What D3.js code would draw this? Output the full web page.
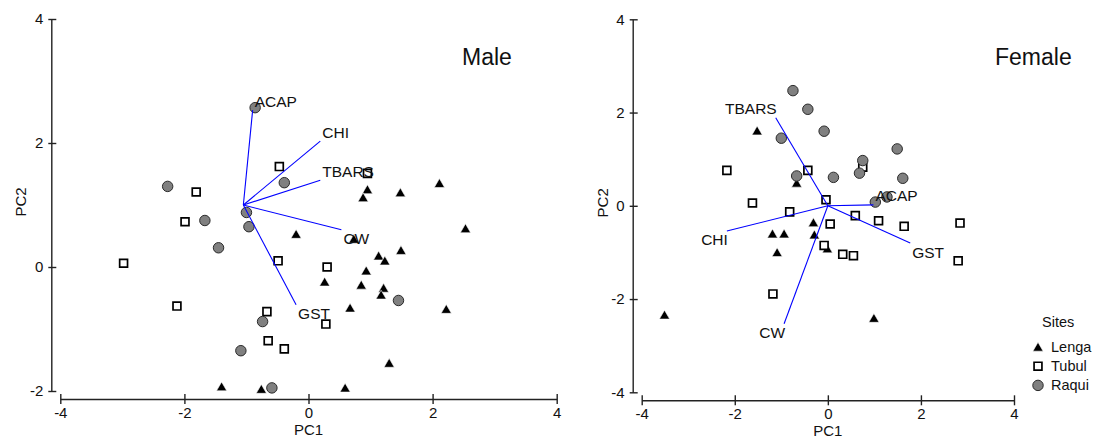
<!DOCTYPE html>
<html>
<head>
<meta charset="utf-8">
<script src="https://cdn.jsdelivr.net/npm/d3@7"></script>
<style>
  body { margin: 0; background: #fff; }
  svg { font-family: "Liberation Sans", Arial, sans-serif; }
</style>
</head>
<body>
<div id="chart"></div>
<script>
// data (PC1, PC2)
const sites = ["Lenga", "Tubul", "Raqui"];
const varNames = ["ACAP", "CHI", "TBARS", "CW", "GST"];
const xTicks = [-4, -2, 0, 2, 4];
const maleYTicks = [-2, 0, 2, 4];
const femaleYTicks = [-4, -2, 0, 2, 4];

const maleLenga = [[-0.20, 0.53], [0.26, -0.24], [-1.40, -1.93], [-0.76, -1.97], [0.95, 1.25], [0.88, 1.12],
  [1.48, 1.20], [2.11, 1.35], [2.53, 0.62], [0.73, 0.45], [1.49, 0.27], [1.13, 0.18], [1.23, 0.10],
  [0.93, -0.06], [0.85, -0.29], [1.21, -0.34], [1.17, -0.45], [0.67, -0.66], [2.22, -0.68],
  [1.30, -1.55], [0.59, -1.95]];
const maleTubul = [[-0.47, 1.62], [-1.81, 1.21], [-1.99, 0.73], [-0.49, 0.10], [-2.98, 0.06], [0.30, 0.0],
  [-2.12, -0.63], [-0.67, -0.72], [0.28, -0.92], [-0.65, -1.19], [-0.39, -1.32], [0.95, 1.51]];
const maleRaqui = [[-0.86, 2.57], [-0.39, 1.36], [-2.27, 1.30], [-1.00, 0.88], [-1.67, 0.75], [-0.96, 0.65],
  [-1.45, 0.31], [-0.74, -0.88], [-1.09, -1.35], [-0.59, -1.95], [1.45, -0.54]];
const maleVecOrigin = [-1.05, 1.0];
const maleVecEnd = [[-0.90, 2.53], [0.19, 2.03], [0.19, 1.40], [0.53, 0.60], [-0.20, -0.61]];

const femaleLenga = [[-1.52, 1.61], [-0.67, 0.49], [-0.31, -0.36], [-1.19, -0.60], [-0.94, -0.60],
  [-0.29, -0.62], [-0.01, -0.92], [-1.09, -1.00], [-3.51, -2.34], [0.99, -2.41]];
const femaleTubul = [[-2.17, 0.76], [-0.43, 0.76], [-1.62, 0.06], [-0.04, 0.13], [-0.82, -0.13], [0.75, 0.83],
  [0.05, -0.39], [-0.08, -0.85], [-1.18, -1.89], [0.59, -0.21], [1.09, -0.32], [1.64, -0.44],
  [2.84, -0.37], [0.32, -1.04], [0.55, -1.07], [2.80, -1.18]];
const femaleRaqui = [[-0.75, 2.47], [-0.43, 2.07], [-0.08, 1.60], [-1.00, 1.45], [-0.67, 0.64], [0.12, 0.61],
  [1.49, 1.22], [0.75, 0.97], [0.68, 0.70], [1.61, 0.59], [1.27, 0.19], [1.02, 0.08]];
const femaleVecOrigin = [0, 0];
const femaleVecEnd = [[0.98, 0.02], [-2.17, -0.54], [-1.12, 1.89], [-0.94, -2.53], [1.77, -0.80]];

const W = 1094, H = 438;
const svg = d3.select('#chart').append('svg')
  .attr('width', W).attr('height', H);

// marker shapes per site
const symbols = {
  Lenga: d3.symbol().type(d3.symbolTriangle).size(46),
  Tubul: d3.symbol().type(d3.symbolSquare).size(62),
  Raqui: d3.symbol().type(d3.symbolCircle).size(86)
};
const styles = {
  Lenga: { fill: '#000', stroke: '#fff', sw: 0.6, dy: 1.2 },
  Tubul: { fill: '#fff', stroke: '#000', sw: 1.7, dy: 0 },
  Raqui: { fill: '#808080', stroke: '#2a2a2a', sw: 1, dy: 0 }
};

function drawPanel(cfg) {
  const x = d3.scaleLinear().domain([-4, 4]).range(cfg.xRange);
  const y = d3.scaleLinear().domain(cfg.yDomain).range(cfg.yRange);
  const g = svg.append('g');

  // axes, detached from the plot area
  const yAxisX = cfg.xRange[0] - 9;
  const xAxisY = cfg.yRange[0] + 8;
  const fmt = d => String(d);

  const yAx = g.append('g')
    .attr('transform', `translate(${yAxisX},0)`)
    .call(d3.axisLeft(y).tickValues(cfg.yTicks).tickFormat(fmt)
      .tickSizeInner(3).tickSizeOuter(0).tickPadding(5));
  yAx.selectAll('.tick line').attr('x2', 5).attr('x1', -3);
  const xAx = g.append('g')
    .attr('transform', `translate(0,${xAxisY})`)
    .call(d3.axisBottom(x).tickValues(xTicks).tickFormat(fmt)
      .tickSizeInner(4).tickSizeOuter(0).tickPadding(4));
  xAx.selectAll('.tick line').attr('y1', -5).attr('y2', 5);
  [yAx, xAx].forEach(a => {
    a.select('.domain').attr('stroke', '#222').attr('stroke-width', 1.4);
    a.selectAll('.tick line').attr('stroke', '#222').attr('stroke-width', 1.4);
    a.selectAll('.tick text').attr('font-size', 15).attr('fill', '#111')
      .attr('font-family', '"Liberation Sans", Arial, sans-serif');
  });

  g.append('text')
    .attr('x', (cfg.xRange[0] + cfg.xRange[1]) / 2)
    .attr('y', xAxisY + 36)
    .attr('text-anchor', 'middle').attr('font-size', 15).attr('fill', '#111')
    .text('PC1');
  g.append('text')
    .attr('transform', `translate(${yAxisX - 25},${(cfg.yRange[0] + cfg.yRange[1]) / 2 - 3}) rotate(-90)`)
    .attr('text-anchor', 'middle').attr('font-size', 15).attr('fill', '#111')
    .text('PC2');

  g.append('text')
    .attr('x', cfg.titleX).attr('y', 65)
    .attr('font-size', 23).attr('fill', '#111')
    .text(cfg.title);

  // points
  sites.forEach((s, i) => {
    const st = styles[s];
    g.append('g').selectAll('path')
      .data(cfg.points[i])
      .join('path')
      .attr('d', symbols[s])
      .attr('transform', d => `translate(${x(d[0])},${y(d[1]) + st.dy})`)
      .attr('fill', st.fill)
      .attr('stroke', st.stroke)
      .attr('stroke-width', st.sw);
  });

  // variable vectors
  const o = cfg.origin;
  const vg = g.append('g');
  vg.selectAll('line')
    .data(cfg.vecEnd)
    .join('line')
    .attr('x1', x(o[0])).attr('y1', y(o[1]))
    .attr('x2', d => x(d[0])).attr('y2', d => y(d[1]))
    .attr('stroke', '#0000ff').attr('stroke-width', 1.1);
  vg.selectAll('text')
    .data(cfg.vecEnd)
    .join('text')
    .attr('x', d => x(d[0]) + (d[0] >= o[0] ? 2 : 1))
    .attr('y', d => y(d[1]) + (d[1] >= o[1] ? -9 : 9))
    .attr('dy', '0.35em')
    .attr('text-anchor', d => d[0] >= o[0] ? 'start' : 'end')
    .attr('font-size', 15.5).attr('fill', '#111')
    .text((d, i) => varNames[i]);
}

drawPanel({
  title: 'Male', titleX: 462,
  xRange: [60.3, 556.7], yDomain: [-2, 4], yRange: [391, 19], yTicks: maleYTicks,
  points: [maleLenga, maleTubul, maleRaqui],
  origin: maleVecOrigin, vecEnd: maleVecEnd
});
drawPanel({
  title: 'Female', titleX: 995,
  xRange: [641.7, 1014], yDomain: [-4, 4], yRange: [392.3, 19.3], yTicks: femaleYTicks,
  points: [femaleLenga, femaleTubul, femaleRaqui],
  origin: femaleVecOrigin, vecEnd: femaleVecEnd
});

// legend
const leg = svg.append('g').attr('transform', 'translate(1038,322)');
leg.append('text').attr('x', 4).attr('dy', '0.35em')
  .attr('font-size', 14.5).attr('fill', '#111').text('Sites');
sites.forEach((s, i) => {
  const st = styles[s];
  const row = leg.append('g').attr('transform', `translate(0,${25 + i * 19.2})`);
  row.append('path').attr('d', symbols[s])
    .attr('transform', `translate(0,${st.dy})`)
    .attr('fill', st.fill).attr('stroke', st.stroke).attr('stroke-width', st.sw);
  row.append('text').attr('x', 13).attr('dy', '0.35em')
    .attr('font-size', 14.5).attr('fill', '#111').text(s);
});
</script>
</body>
</html>
